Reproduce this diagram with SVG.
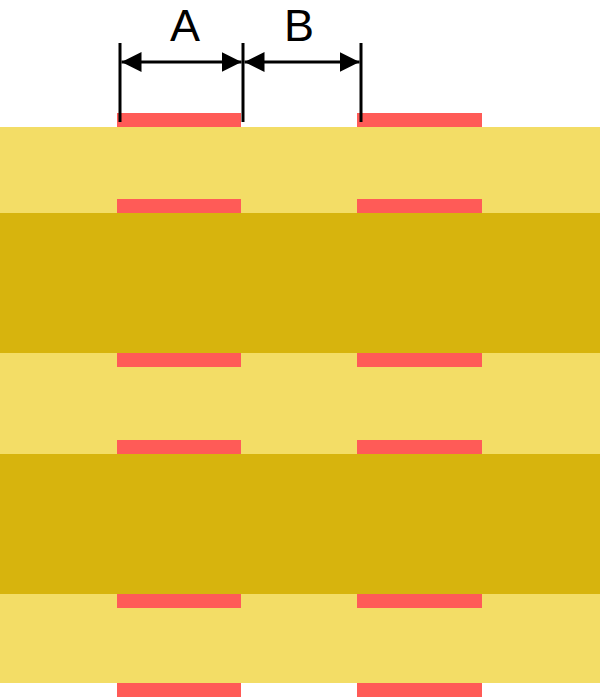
<svg xmlns="http://www.w3.org/2000/svg" width="600" height="700" viewBox="0 0 600 700">
<defs>
<style>
.light{fill:#F3DD66}
.dark{fill:#D7B40D}
.pad{fill:#FF5B57}
.dim{stroke:#000;stroke-width:3;fill:none}
.lbl{font-family:"Liberation Sans",Arial,sans-serif;font-size:45px;fill:#000;text-anchor:middle}
</style>
<marker id="ah" viewBox="0 0 20 20" refX="20" refY="10" markerWidth="20" markerHeight="20" markerUnits="userSpaceOnUse" orient="auto-start-reverse">
<path d="M0,0 L20,10 L0,20 Z" fill="#000"/>
</marker>
</defs>
<rect width="600" height="700" fill="#fff"/>
<g id="layers">
<rect class="light" x="0" y="127" width="600" height="556"/>
<rect class="dark" x="0" y="213" width="600" height="140"/>
<rect class="dark" x="0" y="454" width="600" height="140"/>
</g>
<g id="pads">
<rect class="pad" x="117" y="113" width="124" height="14"/>
<rect class="pad" x="357" y="113" width="125" height="14"/>
<rect class="pad" x="117" y="199" width="124" height="14"/>
<rect class="pad" x="357" y="199" width="125" height="14"/>
<rect class="pad" x="117" y="353" width="124" height="14"/>
<rect class="pad" x="357" y="353" width="125" height="14"/>
<rect class="pad" x="117" y="440" width="124" height="14"/>
<rect class="pad" x="357" y="440" width="125" height="14"/>
<rect class="pad" x="117" y="594" width="124" height="14"/>
<rect class="pad" x="357" y="594" width="125" height="14"/>
<rect class="pad" x="117" y="683" width="124" height="14"/>
<rect class="pad" x="357" y="683" width="125" height="14"/>
</g>
<g id="connectors">
<line class="dim" x1="120" y1="43" x2="120" y2="122"/>
<line class="dim" x1="243" y1="43" x2="243" y2="122"/>
<line class="dim" x1="361" y1="43" x2="361" y2="122"/>
<line class="dim" x1="121.5" y1="62" x2="241.5" y2="62" marker-start="url(#ah)" marker-end="url(#ah)"/>
<line class="dim" x1="244.5" y1="62" x2="359.5" y2="62" marker-start="url(#ah)" marker-end="url(#ah)"/>
</g>
<g id="labels">
<text class="lbl" x="185" y="41">A</text>
<text class="lbl" x="299" y="41">B</text>
</g>
</svg>
